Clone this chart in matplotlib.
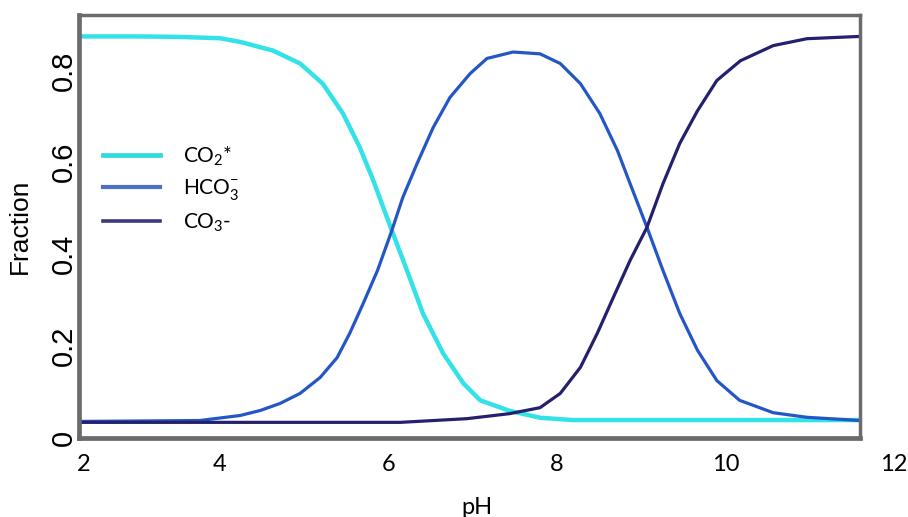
import matplotlib
matplotlib.use("Agg")
import matplotlib.pyplot as plt

# carbonate speciation vs pH
ph_co2 = [2.32, 3.0, 3.5, 4.0, 4.24, 4.63, 4.95, 5.22, 5.46, 5.66, 5.82, 6.04, 6.22,
          6.41, 6.65, 6.89, 7.09, 7.44, 7.80, 8.19, 9.0, 10.0, 11.0, 11.6]
frac_co2 = [0.874, 0.874, 0.873, 0.870, 0.862, 0.843, 0.815, 0.771, 0.706, 0.632, 0.560,
            0.451, 0.364, 0.270, 0.183, 0.118, 0.081, 0.058, 0.043, 0.038, 0.038, 0.038,
            0.038, 0.038]

ph_hco3 = [2.32, 3.76, 4.24, 4.48, 4.71, 4.95, 5.19, 5.39, 5.54, 5.70, 5.87, 6.04, 6.17,
           6.34, 6.53, 6.73, 6.97, 7.17, 7.48, 7.80, 8.04, 8.28, 8.51, 8.72, 8.87, 9.07,
           9.26, 9.46, 9.67, 9.90, 10.17, 10.57, 10.97, 11.6]
frac_hco3 = [0.035, 0.037, 0.048, 0.059, 0.074, 0.096, 0.131, 0.174, 0.227, 0.292, 0.364,
             0.451, 0.523, 0.597, 0.675, 0.741, 0.793, 0.826, 0.840, 0.836, 0.815, 0.771,
             0.706, 0.625, 0.553, 0.458, 0.364, 0.270, 0.190, 0.124, 0.081, 0.054, 0.044,
             0.037]

ph_co3 = [2.32, 6.14, 6.93, 7.44, 7.80, 8.04, 8.28, 8.48, 8.67, 8.87, 9.07, 9.26, 9.46,
          9.67, 9.90, 10.18, 10.57, 10.97, 11.6]
frac_co3 = [0.033, 0.033, 0.041, 0.052, 0.065, 0.096, 0.153, 0.227, 0.305, 0.386, 0.458,
            0.553, 0.641, 0.712, 0.778, 0.821, 0.854, 0.869, 0.874]

labels = ["CO$_2$*", "HCO$_3^{\\mathsf{-}}$", "CO$_3$-"]
colors = ["#33e2e6", "#2457c5", "#25206e"]
legend_colors = ["#2fdadc", "#4a72c0", "#3a3a80"]

xtick_pos = [2.385, 4, 6, 8, 10]
xtick_lab = ["2", "4", "6", "8", "10"]
ytick_pos = [0, 0.2, 0.4, 0.6, 0.8]
ytick_lab = ["0", "0.2", "0.4", "0.6", "0.8"]

plt.rcParams["mathtext.fontset"] = "custom"
plt.rcParams["mathtext.rm"] = "Lato"
plt.rcParams["mathtext.sf"] = "Lato"

fig = plt.figure(figsize=(9.08, 5.17), dpi=100)
ax = fig.add_axes([78.5 / 908, (517 - 437.5) / 517, (860 - 78.5) / 908, (437.5 - 15.3) / 517])

lines = []
lines += ax.plot(ph_co2, frac_co2, color=colors[0], lw=3.2, label=labels[0])
lines += ax.plot(ph_hco3, frac_hco3, color=colors[1], lw=2.3, label=labels[1])
lines += ax.plot(ph_co3, frac_co3, color=colors[2], lw=2.3, label=labels[2])
for ln in lines:
    ln.set_solid_joinstyle("round")

ax.set_xlim(2.319, 11.6)
ax.set_ylim(0, 0.92)

xpad = 12
ax.set_xticks(xtick_pos)
ax.set_xticklabels(xtick_lab, family="Lato", fontsize=17)
ax.set_yticks(ytick_pos)
ax.set_yticklabels(ytick_lab, family="Liberation Sans", fontsize=21, rotation=90, va="center")
ax.tick_params(axis="x", length=0, pad=xpad)
ax.tick_params(axis="y", length=0, pad=0.5)
# the 12 sits past the frame in the original
ax.annotate("12", xy=(12.0, 0), xycoords=("data", "axes fraction"), xytext=(0, -xpad),
            textcoords="offset points", ha="center", va="top", family="Lato", fontsize=17,
            annotation_clip=False)

ax.set_xlabel("pH", family="Lato", fontsize=17)
ax.xaxis.set_label_coords(0.51, -0.142)
ax.set_ylabel("Fraction", family="Liberation Sans", fontsize=19)
ax.yaxis.set_label_coords(-0.06, 0.5)

for side in ["left", "bottom"]:
    ax.spines[side].set_linewidth(3.4)
for side in ["top", "right"]:
    ax.spines[side].set_linewidth(2.5)
for s in ax.spines.values():
    s.set_color("#6b6b6b")

leg = ax.legend(loc="upper left", bbox_to_anchor=(0.023, 0.71), frameon=False,
                prop={"family": "Lato", "size": 15}, handlelength=2.75, handletextpad=1.1,
                labelspacing=0.45, borderaxespad=0.0, borderpad=0.3)
for h, c, w in zip(leg.get_lines(), legend_colors, [3.4, 3.0, 2.6]):
    h.set_color(c)
    h.set_linewidth(w)

fig.savefig("out.png", dpi=100)
